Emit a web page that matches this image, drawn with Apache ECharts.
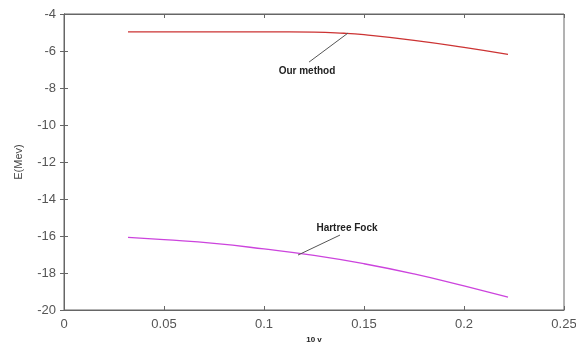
<!DOCTYPE html>
<html>
<head>
<meta charset="utf-8">
<script src="https://cdn.jsdelivr.net/npm/echarts@6/dist/echarts.min.js"></script>
<style>
  html, body { margin: 0; padding: 0; background: #fff; }
  #main { width: 576px; height: 345px; }
</style>
</head>
<body>
<div id="main"></div>
<script>
// values
var ourMethod = [
    [0.032, -4.97], [0.05, -4.97], [0.075, -4.97], [0.1, -4.97], [0.125, -4.98],
    [0.14, -5.04], [0.15, -5.12], [0.175, -5.42], [0.2, -5.8], [0.222, -6.18]
];
var hartreeFock = [
    [0.032, -16.07], [0.05, -16.2], [0.075, -16.4], [0.1, -16.7], [0.125, -17.05],
    [0.15, -17.5], [0.175, -18.05], [0.2, -18.7], [0.222, -19.3]
];
// annotation anchors (data coords): text position, leader start, leader end
var ourNote = { text: [0.1215, -7.1], from: [0.1225, -6.6], to: [0.142, -5.03] };
var hfNote = { text: [0.1415, -15.6], from: [0.117, -17.03], to: [0.138, -15.95] };

var chart = echarts.init(document.getElementById('main'));

var labelFont = { color: '#555', fontSize: 13, fontFamily: 'Liberation Sans, Arial, sans-serif' };

function noteSeries(note, label) {
    return {
        type: 'line',
        data: [note.from, note.to],
        symbol: 'none',
        silent: true,
        lineStyle: { color: '#555', width: 1 },
        markPoint: {
            symbol: 'circle',
            symbolSize: 0,
            data: [{ coord: note.text }],
            label: {
                show: true,
                position: 'inside',
                formatter: label,
                color: '#222',
                fontSize: 10,
                fontWeight: 'bold',
                fontFamily: 'Liberation Sans, Arial, sans-serif'
            }
        }
    };
}

var option = {
    animation: false,
    grid: {
        left: 64, right: 12, top: 14, bottom: 35,
        outerBoundsMode: 'none',
        containLabel: false,
        show: true,
        borderColor: '#666',
        borderWidth: 1
    },
    xAxis: [
        {
            type: 'value',
            min: 0, max: 0.25, interval: 0.05,
            name: '10 v',
            nameLocation: 'middle',
            nameGap: 25,
            nameTextStyle: { color: '#222', fontSize: 8, fontWeight: 'bold' },
            axisLine: { lineStyle: { color: '#666' } },
            axisTick: { inside: true, length: 4, lineStyle: { color: '#666' } },
            axisLabel: labelFont,
            splitLine: { show: false }
        },
        {
            type: 'value',
            position: 'top',
            min: 0, max: 0.25, interval: 0.05,
            axisLine: { lineStyle: { color: '#666' } },
            axisTick: { inside: true, length: 4, lineStyle: { color: '#666' } },
            axisLabel: { show: false },
            splitLine: { show: false }
        }
    ],
    yAxis: [
        {
            type: 'value',
            min: -20, max: -4, interval: 2,
            name: 'E(Mev)',
            nameLocation: 'middle',
            nameGap: 40,
            nameTextStyle: { color: '#444', fontSize: 11 },
            axisLine: { lineStyle: { color: '#666' } },
            axisTick: { inside: true, length: 4, lineStyle: { color: '#666' } },
            axisLabel: labelFont,
            splitLine: { show: false }
        },
        {
            type: 'value',
            position: 'right',
            min: -20, max: -4, interval: 2,
            axisLine: { lineStyle: { color: '#666' } },
            axisTick: { inside: true, length: 4, lineStyle: { color: '#666' } },
            axisLabel: { show: false },
            splitLine: { show: false }
        }
    ],
    series: [
        {
            name: 'Our method',
            type: 'line',
            data: ourMethod,
            symbol: 'none',
            smooth: true,
            lineStyle: { color: '#cc3333', width: 1.3 }
        },
        {
            name: 'Hartree Fock',
            type: 'line',
            data: hartreeFock,
            symbol: 'none',
            smooth: true,
            lineStyle: { color: '#cc44dd', width: 1.3 }
        },
        noteSeries(ourNote, 'Our method'),
        noteSeries(hfNote, 'Hartree Fock')
    ]
};

chart.setOption(option);
</script>
</body>
</html>
